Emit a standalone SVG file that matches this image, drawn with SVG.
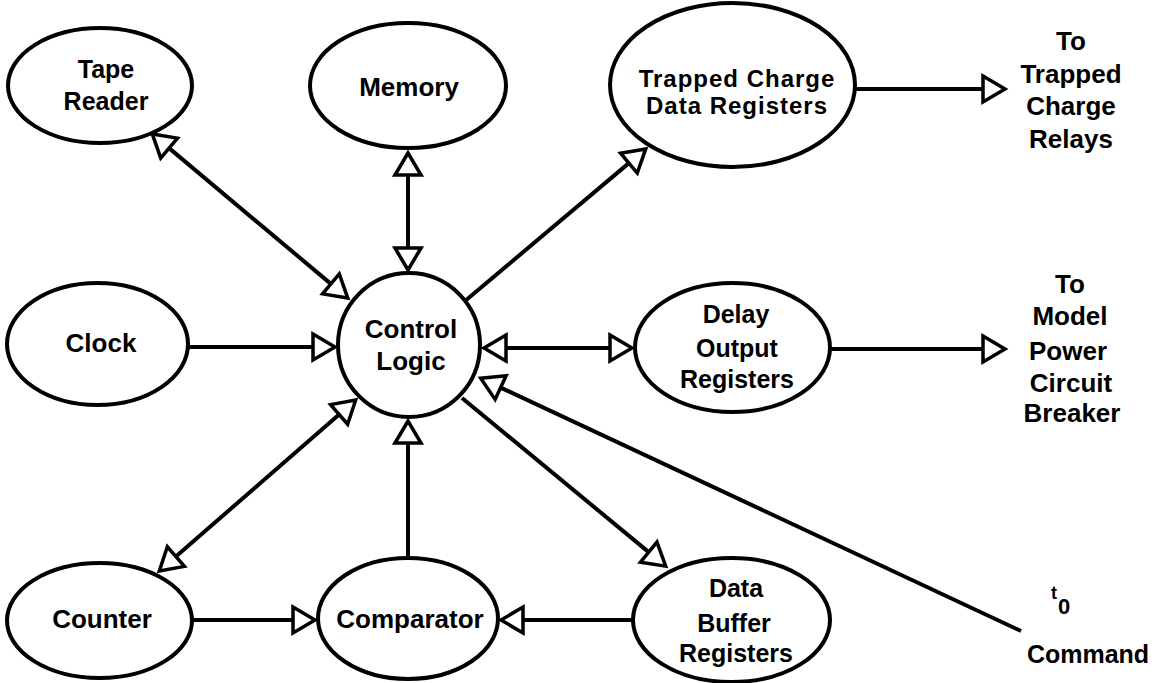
<svg xmlns="http://www.w3.org/2000/svg" width="1158" height="683" viewBox="0 0 1158 683">
<style>
.node ellipse{fill:#fff;stroke:#000;stroke-width:4}
text{font-family:"Liberation Sans",Arial,sans-serif;font-weight:bold;fill:#000;text-anchor:middle}
.t23{font-size:24px}
.t24{font-size:25px}
.t25{font-size:25px}
.t26{font-size:26px}
</style>
<defs>
<marker id="ah" viewBox="-4 -18 34 36" refX="0" refY="0" markerWidth="34" markerHeight="36" markerUnits="userSpaceOnUse" orient="auto-start-reverse">
<path d="M0,-13 L22,0 L0,13 Z" fill="#fff" stroke="#000" stroke-width="3.5"/>
</marker>
</defs>
<rect width="1158" height="683" fill="#fff"/>
<g id="tape-reader" class="node"><ellipse cx="100" cy="85.5" rx="92" ry="57.5"/><text class="t24" x="106" y="78">Tape</text><text class="t24" x="106" y="110">Reader</text></g>
<g id="memory" class="node"><ellipse cx="408" cy="85.5" rx="98" ry="62.5"/><text class="t26" x="409" y="96">Memory</text></g>
<g id="trapped-charge" class="node"><ellipse cx="732.5" cy="85" rx="122.5" ry="82"/><text class="t23" x="737" y="87" letter-spacing="1">Trapped Charge</text><text class="t23" x="737" y="114" letter-spacing="1">Data Registers</text></g>
<g id="clock" class="node"><ellipse cx="97.5" cy="344" rx="90.5" ry="61"/><text class="t26" x="101" y="352">Clock</text></g>
<g id="control-logic" class="node"><ellipse cx="409" cy="345" rx="71" ry="72"/><text class="t26" x="411" y="338">Control</text><text class="t26" x="411" y="370">Logic</text></g>
<g id="delay-output" class="node"><ellipse cx="732.5" cy="347.5" rx="97.5" ry="64.5"/><text class="t25" x="736" y="323">Delay</text><text class="t25" x="737" y="357">Output</text><text class="t25" x="737" y="388">Registers</text></g>
<g id="counter" class="node"><ellipse cx="99.5" cy="620.5" rx="92.5" ry="57.5"/><text class="t26" x="102" y="628">Counter</text></g>
<g id="comparator" class="node"><ellipse cx="408" cy="618.5" rx="90" ry="60.5"/><text class="t26" x="410" y="628">Comparator</text></g>
<g id="data-buffer" class="node"><ellipse cx="731.5" cy="620" rx="98.5" ry="62"/><text class="t25" x="736" y="597">Data</text><text class="t25" x="734" y="632">Buffer</text><text class="t25" x="736" y="662">Registers</text></g>
<g id="relays-label"><text class="t26" x="1071" y="50">To</text><text class="t26" x="1071" y="83">Trapped</text><text class="t26" x="1071" y="115">Charge</text><text class="t26" x="1071" y="148">Relays</text></g>
<g id="breaker-label"><text class="t26" x="1070" y="293">To</text><text class="t26" x="1070" y="325">Model</text><text class="t26" x="1068" y="360">Power</text><text class="t26" x="1071" y="392">Circuit</text><text class="t26" x="1072" y="422">Breaker</text></g>
<g id="command-label"><text x="1054" y="599" style="font-size:18px">t<tspan x="1064" y="614" style="font-size:22px">0</tspan></text><text class="t25" x="1088" y="663">Command</text></g>
<g id="connectors" fill="none" stroke="#000" stroke-width="4">
<line x1="169.1" y1="148.1" x2="330.9" y2="283.9" marker-start="url(#ah)" marker-end="url(#ah)"/>
<line x1="408" y1="175" x2="408" y2="248" marker-start="url(#ah)" marker-end="url(#ah)"/>
<line x1="465" y1="301" x2="628.9" y2="163.1" marker-end="url(#ah)"/>
<line x1="855" y1="89" x2="983" y2="89" marker-end="url(#ah)"/>
<line x1="188" y1="347" x2="313" y2="347" marker-end="url(#ah)"/>
<line x1="506" y1="348" x2="610" y2="348" marker-start="url(#ah)" marker-end="url(#ah)"/>
<line x1="830" y1="349" x2="983" y2="349" marker-end="url(#ah)"/>
<line x1="1021" y1="631" x2="500.6" y2="387.6" marker-end="url(#ah)"/>
<line x1="462" y1="398" x2="648.7" y2="552.1" marker-end="url(#ah)"/>
<line x1="175.9" y1="556.6" x2="339.1" y2="414.4" marker-start="url(#ah)" marker-end="url(#ah)"/>
<line x1="192" y1="620" x2="293" y2="620" marker-end="url(#ah)"/>
<line x1="408" y1="558" x2="408" y2="443" marker-end="url(#ah)"/>
<line x1="633" y1="620" x2="523" y2="620" marker-end="url(#ah)"/>
</g>
</svg>
